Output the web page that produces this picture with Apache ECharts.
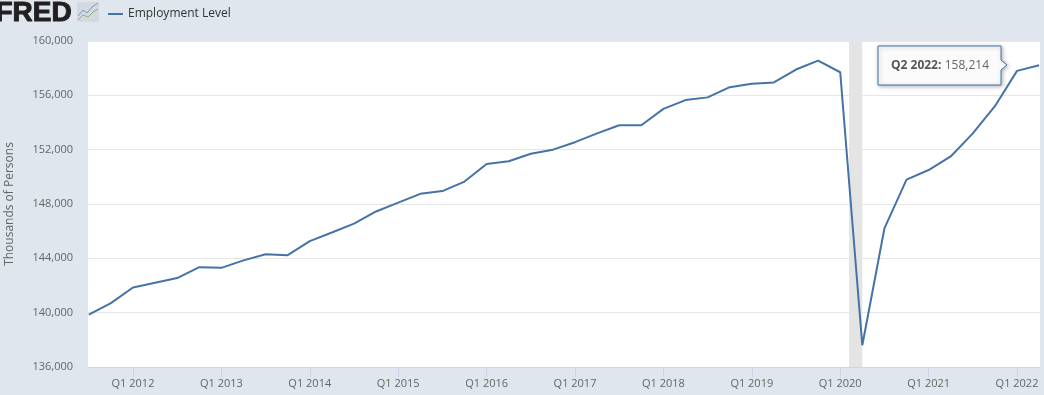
<!DOCTYPE html>
<html>
<head>
<meta charset="utf-8">
<style>
  html, body { margin: 0; padding: 0; background: #dfe6ee; }
  #chart { width: 1044px; height: 395px; }
</style>
<script src="https://cdn.jsdelivr.net/npm/echarts@6/dist/echarts.min.js"></script>
</head>
<body>
<div id="chart"></div>
<script>
  const quarters = [
    'Q3 2011','Q4 2011',
    'Q1 2012','Q2 2012','Q3 2012','Q4 2012',
    'Q1 2013','Q2 2013','Q3 2013','Q4 2013',
    'Q1 2014','Q2 2014','Q3 2014','Q4 2014',
    'Q1 2015','Q2 2015','Q3 2015','Q4 2015',
    'Q1 2016','Q2 2016','Q3 2016','Q4 2016',
    'Q1 2017','Q2 2017','Q3 2017','Q4 2017',
    'Q1 2018','Q2 2018','Q3 2018','Q4 2018',
    'Q1 2019','Q2 2019','Q3 2019','Q4 2019',
    'Q1 2020','Q2 2020','Q3 2020','Q4 2020',
    'Q1 2021','Q2 2021','Q3 2021','Q4 2021',
    'Q1 2022','Q2 2022'
  ];
  const employment = [
    139850,140700,
    141850,142200,142550,143350,
    143300,143850,144300,144230,
    145270,145900,146550,147450,
    148100,148750,148950,149650,
    150950,151150,151700,152000,
    152550,153200,153800,153800,
    155000,155650,155850,156600,
    156850,156950,157900,158550,
    157700,137600,146200,149800,
    150500,151500,153200,155200,
    157800,158214
  ];
  const tickQuarters = ['Q1 2012','Q1 2013','Q1 2014','Q1 2015','Q1 2016','Q1 2017','Q1 2018','Q1 2019','Q1 2020','Q1 2021','Q1 2022'];
  const yTicks = { min: 136000, max: 160000, interval: 4000 };
  // recession band, in quarter positions
  const recession = [34.4, 35];

  const tickIndexes = tickQuarters.map(q => quarters.indexOf(q));
  const fontFamily = '"Open Sans", sans-serif';

  let myChart = echarts.init(document.getElementById('chart'), null, { renderer: 'canvas' });

  myChart.setOption({
    animation: false,
    backgroundColor: '#dfe6ee',
    textStyle: { fontFamily: fontFamily },
    legend: {
      left: 108,
      top: 8,
      padding: 0,
      itemWidth: 15,
      itemHeight: 2,
      itemGap: 6,
      icon: 'rect',
      textStyle: { fontSize: 12, color: '#333', fontFamily: fontFamily },
      data: ['Employment Level']
    },
    grid: {
      left: 88, right: 4, top: 41, bottom: 28,
      outerBoundsMode: 'none',
      show: true, backgroundColor: '#fff', borderWidth: 0
    },
    xAxis: {
      type: 'value',
      min: -0.036,
      max: 43.04,
      splitLine: { show: false },
      axisLine: { show: true, onZero: false, lineStyle: { color: '#ccd6eb', width: 1 } },
      axisTick: { show: true, length: 10, lineStyle: { color: '#ccd6eb' }, customValues: tickIndexes },
      axisLabel: {
        color: '#666', fontSize: 11, margin: 11,
        customValues: tickIndexes,
        formatter: val => quarters[Math.round(val)]
      }
    },
    yAxis: {
      type: 'value',
      min: yTicks.min,
      max: yTicks.max,
      interval: yTicks.interval,
      name: 'Thousands of Persons',
      nameLocation: 'middle',
      nameGap: 72,
      nameTextStyle: { color: '#666', fontSize: 12 },
      axisLine: { show: false },
      axisTick: { show: false },
      splitLine: { lineStyle: { color: '#e6e6e6', width: 1 } },
      axisLabel: {
        color: '#666', fontSize: 11, margin: 15, padding: [2, 0, 0, 0],
        formatter: val => val.toLocaleString('en-US')
      }
    },
    series: [{
      name: 'Employment Level',
      type: 'line',
      data: employment.map((v, i) => [i, v]),
      showSymbol: false,
      lineStyle: { color: '#4572a7', width: 2 },
      itemStyle: { color: '#4572a7' },
      markArea: {
        silent: true,
        itemStyle: { color: '#e4e4e4' },
        data: [[{ xAxis: recession[0] }, { xAxis: recession[1] }]]
      }
    }],
    graphic: [
      // FRED logo, clipped by the left edge like the source
      {
        type: 'text', left: -5, top: -1,
        style: { text: 'FRED', font: '900 28px "Liberation Sans", sans-serif', fill: '#231f20', stroke: '#231f20', lineWidth: 1 }
      },
      {
        type: 'rect', shape: { x: 77, y: 2, width: 22, height: 20, r: 2 },
        style: { fill: '#d3d9df' }
      },
      {
        type: 'polyline', shape: { points: [[78, 16], [83, 10], [87, 13], [92, 7], [98, 3]] },
        style: { stroke: '#7d9bbd', lineWidth: 1, fill: null }
      },
      {
        type: 'polyline', shape: { points: [[78, 20], [83, 15], [88, 17], [93, 12], [98, 9]] },
        style: { stroke: '#8fb174', lineWidth: 1, fill: null }
      },
      // hover callout
      {
        type: 'polygon',
        z: 20,
        shape: { points: [[878, 46], [1001, 46], [1001, 60], [1007, 65], [1001, 70], [1001, 85], [878, 85]] },
        style: {
          fill: '#fbfbfb', stroke: '#4572a7', lineWidth: 1,
          shadowBlur: 4, shadowOffsetX: 1, shadowOffsetY: 1, shadowColor: 'rgba(0,0,0,0.3)'
        }
      },
      {
        type: 'text',
        z: 21,
        left: 891, top: 60,
        style: {
          text: '{b|Q2 2022:} {v|158,214}',
          rich: {
            b: { font: 'bold 12px "Open Sans", sans-serif', fill: '#555', lineHeight: 15 },
            v: { font: '12px "Open Sans", sans-serif', fill: '#666', lineHeight: 15 }
          }
        }
      }
    ]
  });
</script>
</body>
</html>
